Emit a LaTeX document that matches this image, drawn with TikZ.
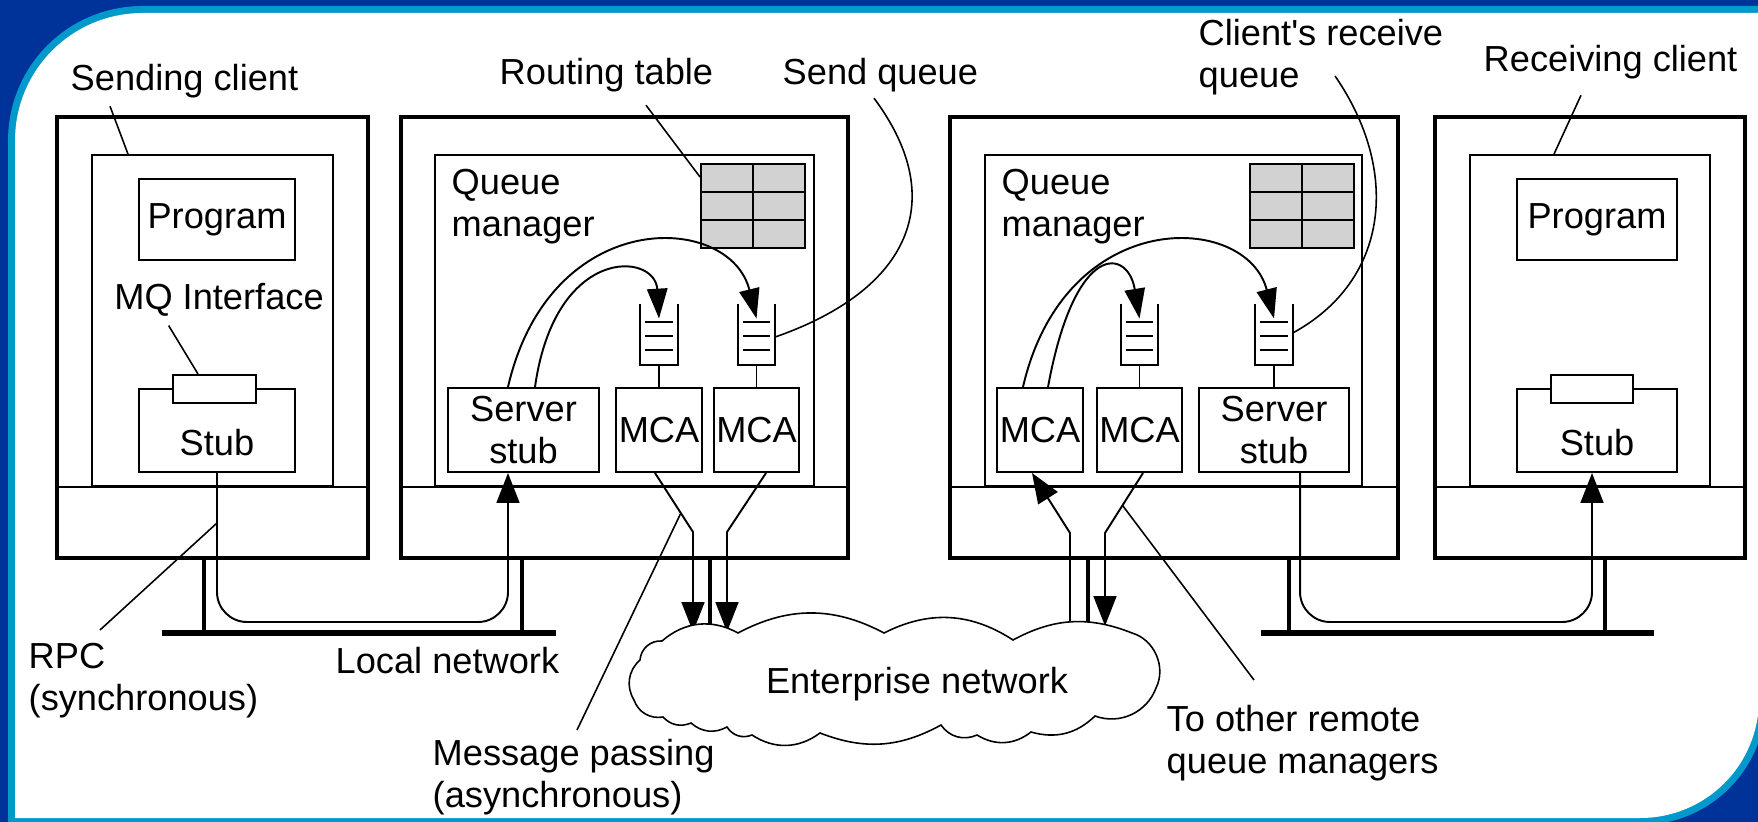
\documentclass[tikz,border=0pt]{standalone}
\usepackage{fontspec}
\setmainfont{Liberation Sans}
\usetikzlibrary{arrows.meta,positioning,calc}
\definecolor{bgdark}{RGB}{0,51,153}
\definecolor{bglight}{RGB}{0,153,204}
\definecolor{tablegray}{RGB}{210,210,210}
\tikzset{
  lbl/.style={font=\fontsize{10.3}{11.9}\selectfont, inner sep=0pt, align=left},
  outerbox/.style={draw, line width=1.15pt, inner sep=0pt},
  innerbox/.style={draw, line width=0.45pt, inner sep=0pt},
  unitbox/.style={draw, line width=0.55pt, inner sep=0pt, align=center, font=\fontsize{10.3}{11.9}\selectfont},
  qbox/.style={inner sep=0pt, minimum width=0.36cm, minimum height=0.6cm},
  rtable/.style={draw, fill=tablegray, line width=0.55pt, inner sep=0pt, minimum width=1.04cm, minimum height=0.84cm},
  conn/.style={line width=0.55pt},
  lead/.style={line width=0.45pt},
  leg/.style={line width=1.4pt},
  bus/.style={line width=1.7pt},
  tip/.style={-{Triangle[length=8.5pt,width=6.5pt]}},
  arctip/.style={-{Triangle[length=8.5pt,width=5.8pt]}},
}
\begin{document}
\begin{tikzpicture}[x=0.01cm,y=-0.01cm]
\useasboundingbox (0,0) rectangle (1758,822);
% frame
\fill[bgdark] (0,0) rectangle (1758,822);
\fill[bglight] (8,830) -- (8,141) .. controls (8,66) and (68,6) .. (143,6) -- (1770,6)
  -- (1766,699) .. controls (1766,769) and (1710,825) .. (1640,825) -- (8,830) -- cycle;
\fill[white] (15,818) -- (15,141) .. controls (15,70) and (72,13) .. (143,13) -- (1765,13)
  -- (1759,699) .. controls (1759,765) and (1706,818) .. (1640,818) -- cycle;

% sending client
\node[outerbox,minimum width=3.11cm,minimum height=4.41cm] (sc) at (212.5,337.5) {};
\node[innerbox,minimum width=2.41cm,minimum height=3.31cm] (in1) at (212.5,320.5) {};
\draw[innerbox] (sc.west |- in1.south) -- (sc.east |- in1.south);
\node[unitbox,minimum width=1.56cm,minimum height=0.81cm] (prog1) at (217,219.5) {Program};
\node[unitbox,minimum width=1.56cm,minimum height=0.83cm] (stub1) at (217,430.5) {};
\node[lbl] (stub1t) at ([yshift=-0.12cm]stub1.center) {Stub};
\node[unitbox,fill=white,minimum width=0.83cm,minimum height=0.28cm] (if1) at (214.5,389) {};

% queue manager, sending side
\node[outerbox,minimum width=4.47cm,minimum height=4.41cm] (qm1) at (624.5,337.5) {};
\node[innerbox,minimum width=3.79cm,minimum height=3.31cm] (in2) at (624.5,320.5) {};
\draw[innerbox] (qm1.west |- in2.south) -- (qm1.east |- in2.south);
\node[rtable] (rt2) at (753,206) {};
\node[unitbox,minimum width=1.51cm,minimum height=0.84cm] (ss2) at (523.5,430) {Server\\stub};
\node[unitbox,minimum width=0.86cm,minimum height=0.84cm] (mca2a) at (659,430) {MCA};
\node[unitbox,minimum width=0.85cm,minimum height=0.84cm] (mca2b) at (756.5,430) {MCA};
\node[qbox,above=0.22cm of mca2a] (q2a) {};
\node[qbox,above=0.22cm of mca2b] (q2b) {};

% queue manager, receiving side
\node[outerbox,minimum width=4.48cm,minimum height=4.41cm] (qm2) at (1174,337.5) {};
\node[innerbox,minimum width=3.77cm,minimum height=3.31cm] (in3) at (1173.5,320.5) {};
\draw[innerbox] (qm2.west |- in3.south) -- (qm2.east |- in3.south);
\node[rtable] (rt3) at (1302,206) {};
\node[unitbox,minimum width=0.86cm,minimum height=0.84cm] (mca3a) at (1040,430) {MCA};
\node[unitbox,minimum width=0.85cm,minimum height=0.84cm] (mca3b) at (1139.5,430) {MCA};
\node[unitbox,minimum width=1.50cm,minimum height=0.84cm] (ss3) at (1274,430) {Server\\stub};
\node[qbox,above=0.22cm of mca3b] (q3a) {};
\node[qbox,above=0.22cm of ss3] (q3b) {};

% receiving client
\node[outerbox,minimum width=3.10cm,minimum height=4.41cm] (rc) at (1590,337.5) {};
\node[innerbox,minimum width=2.40cm,minimum height=3.31cm] (in4) at (1590,320.5) {};
\draw[innerbox] (rc.west |- in4.south) -- (rc.east |- in4.south);
\node[unitbox,minimum width=1.60cm,minimum height=0.81cm] (prog4) at (1597,219.5) {Program};
\node[unitbox,minimum width=1.60cm,minimum height=0.83cm] (stub4) at (1597,430.5) {};
\node[lbl] (stub4t) at ([yshift=-0.12cm]stub4.center) {Stub};
\node[unitbox,fill=white,minimum width=0.82cm,minimum height=0.28cm] (if4) at (1592,389) {};

% routing tables and queues
\foreach \r in {rt2,rt3} {
  \draw[conn] (\r.north) -- (\r.south);
  \foreach \t in {192,220} \draw[conn] (\r.west |- 0,\t) -- (\r.east |- 0,\t);
}
\foreach \q/\m in {q2a/mca2a,q2b/mca2b,q3a/mca3b,q3b/ss3} {
  \draw[conn] (\q.north west) |- (\q.south east) -- (\q.north east);
  \foreach \f in {0.3,0.53,0.75}
    \draw[conn] ($(\q.north west)!\f!(\q.south west)+(5,0)$) -- ($(\q.north east)!\f!(\q.south east)+(-5,0)$);
  \draw[conn] (\q.south) -- (\m.north);
}

% queue arcs
\draw[conn,arctip] ([xshift=-0.155cm]ss2.north) .. controls (550,205) and (730,212) .. ([yshift=-0.15cm]q2b.north);
\draw[conn,arctip] ([xshift=0.115cm]ss2.north) .. controls (555,245) and (655,252) .. ([yshift=-0.15cm]q2a.north);
\draw[conn,arctip] ([xshift=-0.17cm]mca3a.north) .. controls (1065,205) and (1247,212) .. ([yshift=-0.15cm]q3b.north);
\draw[conn,arctip] ([xshift=0.08cm]mca3a.north) .. controls (1075,240) and (1128,248) .. ([yshift=-0.15cm]q3a.north);

% local networks
\coordinate (bus1w) at (162,633);
\coordinate (bus1e) at (556,633);
\coordinate (bus2w) at (1261,633);
\coordinate (bus2e) at (1654,633);
\draw[bus] (bus1w) -- (bus1e);
\draw[bus] (bus2w) -- (bus2e);
\draw[leg] (204,0 |- sc.south) -- (204,0 |- bus1w);
\draw[leg] (522,0 |- qm1.south) -- (522,0 |- bus1w);
\draw[leg] (1289,0 |- qm2.south) -- (1289,0 |- bus2w);
\draw[leg] (1605,0 |- rc.south) -- (1605,0 |- bus2w);
\coordinate (lan1) at (300,622);
\coordinate (lan2) at (1450,622);
\draw[conn,rounded corners=0.3cm,tip] (stub1.south) |- (lan1) -| ([xshift=-0.155cm]ss2.south);
\draw[conn,rounded corners=0.3cm,tip] ([xshift=0.26cm]ss3.south) |- (lan2) -| ([xshift=-0.05cm]stub4.south);

% message channels
\coordinate (ya) at (693,532);
\coordinate (yb) at (727,532);
\coordinate (ea) at (693,632);
\coordinate (eb) at (727,632);
\draw[conn,tip] ([xshift=-0.04cm]mca2a.south) -- (ya) -- (ea);
\draw[conn,tip] ([xshift=0.095cm]mca2b.south) -- (yb) -- (eb);
\draw[leg] (710,0 |- qm1.south) -- (710,632);
\coordinate (yc) at (1070,533);
\coordinate (yd) at (1105,533);
\coordinate (ec) at (1070,627);
\coordinate (ed) at (1105,626);
\draw[conn,tip] (ec) -- (yc) -- ([xshift=-0.08cm]mca3a.south);
\draw[conn,tip] ([xshift=0.035cm]mca3b.south) -- (yd) -- (ed);
\draw[leg] (1088,0 |- qm2.south) -- (1088,628);

% enterprise network
\draw[lead,fill=white] (634,700) to[bend left=40] (640,660) to[bend left=45] (662,641)
  to[bend left=35] (738,633) to[bend left=28] (884,633) to[bend left=30] (1013,640)
  to[bend left=25] (1132,633) to[bend left=50] (1156,688) to[bend left=45] (1095,716)
  to[bend left=30] (1031,732) to[bend left=35] (977,735) to[bend left=40] (941,725)
  to[bend left=25] (820,733) to[bend left=35] (752,735) to[bend left=40] (727,727)
  to[bend left=35] (691,723) to[bend left=35] (663,717) to[bend left=40] (634,700) -- cycle;
\node[lbl,anchor=base] (ent) at (917,693) {Enterprise network};

% labels
\node[lbl,anchor=base west] (sclbl) at (70,91) {Sending client};
\node[lbl,anchor=base] (mqlbl) at (219,310) {MQ Interface};
\node[lbl,anchor=base west] (rtlbl) at (499,85) {Routing table};
\node[lbl,anchor=base west] (sqlbl) at (782,85) {Send queue};
\node[lbl,anchor=north west] (crlbl) at (1198,19) {Client\textquotesingle s receive\\queue};
\node[lbl,anchor=base west] (rclbl) at (1483,72) {Receiving client};
\node[lbl,anchor=north west] (qmlbl2) at (451,169) {Queue\\manager};
\node[lbl,anchor=north west] (qmlbl3) at (1001,169) {Queue\\manager};
\node[lbl,anchor=north west] (rpclbl) at (28,643) {RPC\\(synchronous)};
\node[lbl,anchor=base west] (lanlbl) at (335,673) {Local network};
\node[lbl,anchor=north west] (msglbl) at (432,739) {Message passing\\(asynchronous)};
\node[lbl,anchor=north west] (remlbl) at (1166,705) {To other remote\\queue managers};

% leaders
\draw[lead] ([shift={(40,7)}]sclbl.south west) -- (128,0 |- in1.north);
\draw[lead] ([shift={(55,8)}]mqlbl.south west) -- (198,0 |- if1.north);
\draw[lead] ([shift={(147,12)}]rtlbl.south west) -- (rt2.west |- 0,177);
\draw[lead] ([shift={(92,5)}]sqlbl.south west) .. controls (950,200) and (910,290) .. (q2b.east |- 0,337);
\draw[lead] ([shift={(137,57)}]crlbl.north west) .. controls (1400,170) and (1390,280) .. (q3b.east |- 0,333);
\draw[lead] ([shift={(98,15)}]rclbl.south west) -- (1554,0 |- in4.north);
\draw[lead] ([shift={(72,-13)}]rpclbl.north west) -- (stub1.south |- 0,523);
\draw[lead] ([shift={(145,-9)}]msglbl.north west) -- ($([xshift=-0.04cm]mca2a.south)!0.68!(ya)$);
\draw[lead] ([shift={(88,-25)}]remlbl.north west) -- ($([xshift=0.035cm]mca3b.south)!0.54!(yd)$);
\end{tikzpicture}
\end{document}
